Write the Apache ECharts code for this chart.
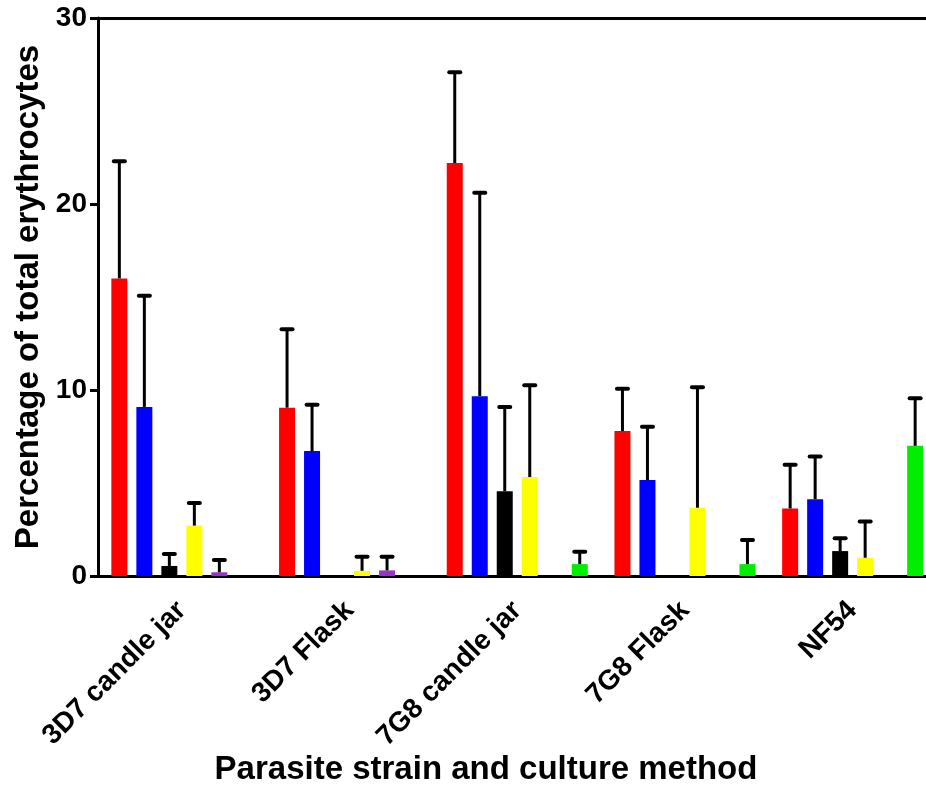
<!DOCTYPE html>
<html>
<head>
<meta charset="utf-8">
<script src="https://cdn.jsdelivr.net/npm/echarts@6/dist/echarts.min.js"></script>
<style>
html,body{margin:0;padding:0;background:#fff;}
#c{width:926px;height:787px;}
</style>
</head>
<body>
<div id="c"></div>
<script>
// ---- data ----
const categories = ['3D7 candle jar', '3D7 Flask', '7G8 candle jar', '7G8 Flask', 'NF54'];
const seriesNames = ['Red', 'Blue', 'Black', 'Yellow', 'Purple', 'Green'];
const seriesColors = ['#ff0000', '#0000ff', '#000000', '#ffff00', '#9932cc', '#00ee00'];
const redMean    = [16.0, 9.05, 22.2, 7.79, 3.63];
const redSD      = [6.3, 4.22, 4.88, 2.28, 2.35];
const blueMean   = [9.09, 6.72, 9.67, 5.16, 4.13];
const blueSD     = [5.98, 2.49, 10.94, 2.87, 2.29];
const blackMean  = [0.54, null, 4.56, null, 1.34];
const blackSD    = [0.64, null, 4.53, null, 0.69];
const yellowMean = [2.71, 0.28, 5.32, 3.67, 0.98];
const yellowSD   = [1.22, 0.76, 4.94, 6.48, 1.95];
const purpleMean = [0.2, 0.3, null, null, null];
const purpleSD   = [0.66, 0.74, null, null, null];
const greenMean  = [null, null, 0.64, 0.64, 7.0];
const greenSD    = [null, null, 0.66, 1.29, 2.55];
const yTicks = [0, 10, 20, 30];
const xTitle = 'Parasite strain and culture method';
const yTitle = 'Percentage of total erythrocytes';

const means = [redMean, blueMean, blackMean, yellowMean, purpleMean, greenMean];
const sds = [redSD, blueSD, blackSD, yellowSD, purpleSD, greenSD];

// ---- style constants ----
const FONT = '"Liberation Sans", Arial, Helvetica, sans-serif';
const BAR_W = 16;
const GAP = 9;
const CAP = 11;
const N = means.length;

const series = [];
means.forEach((m, si) => {
  series.push({
    name: seriesNames[si],
    type: 'bar',
    data: m.map(v => v == null ? '-' : v),
    barWidth: BAR_W,
    barGap: (GAP / BAR_W * 100) + '%',
    itemStyle: { color: seriesColors[si] },
    z: 2
  });
});
means.forEach((m, si) => {
  const d = [];
  m.forEach((v, i) => { if (v != null) d.push([i, v, v + sds[si][i]]); });
  series.push({
    type: 'custom',
    name: seriesNames[si] + ' SD',
    data: d,
    encode: { x: 0, y: [1, 2] },
    z: 3,
    renderItem: function (params, api) {
      const off = (si - (N - 1) / 2) * (BAR_W + GAP);
      const base = api.coord([api.value(0), api.value(1)]);
      const top = api.coord([api.value(0), api.value(2)]);
      const x = base[0] + off;
      return {
        type: 'group',
        children: [
          { type: 'line', shape: { x1: x, y1: base[1], x2: x, y2: top[1] },
            style: { stroke: '#000', lineWidth: 3 } },
          { type: 'line', shape: { x1: x - CAP / 2, y1: top[1], x2: x + CAP / 2, y2: top[1] },
            style: { stroke: '#000', lineWidth: 4, lineCap: 'round' } }
        ]
      };
    }
  });
});

const chart = echarts.init(document.getElementById('c'));
chart.setOption({
  animation: false,
  backgroundColor: '#fff',
  grid: { left: 98, top: 18, width: 838.5, height: 558, containLabel: false, outerBoundsMode: 'none' },
  xAxis: [{
    type: 'category',
    data: categories,
    axisLine: { lineStyle: { color: '#000', width: 3 } },
    axisTick: { alignWithLabel: true, length: 8, lineStyle: { color: '#000', width: 3 } },
    axisLabel: { rotate: 45, margin: 30, color: '#000', fontSize: 28, fontWeight: 'bold', fontFamily: FONT, interval: 0 },
    splitLine: { show: false }
  }, {
    type: 'category',
    data: categories,
    position: 'top',
    axisLine: { lineStyle: { color: '#000', width: 3 } },
    axisTick: { show: false },
    axisLabel: { show: false }
  }],
  yAxis: {
    type: 'value',
    min: 0, max: 30, interval: 10,
    name: yTitle,
    nameLocation: 'middle',
    nameGap: 53,
    nameRotate: 90,
    nameTextStyle: { color: '#000', fontSize: 33, fontWeight: 'bold', fontFamily: FONT },
    axisLine: { show: true, lineStyle: { color: '#000', width: 3 } },
    axisTick: { show: true, length: 8, lineStyle: { color: '#000', width: 3 } },
    axisLabel: { margin: 11, color: '#000', fontSize: 28, fontWeight: 'bold', fontFamily: FONT },
    splitLine: { show: false }
  },
  graphic: [{
    type: 'text',
    x: 486, y: 770,
    style: { text: xTitle, fill: '#000', font: 'bold 33px ' + FONT, textAlign: 'center', textVerticalAlign: 'middle' }
  }],
  series: series
});
</script>
</body>
</html>
